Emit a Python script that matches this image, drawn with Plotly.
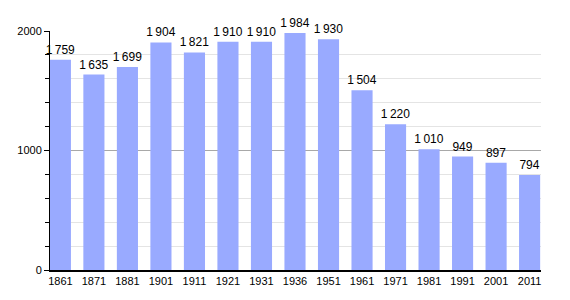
import plotly.graph_objects as go

years = ["1861", "1871", "1881", "1901", "1911", "1921", "1931", "1936", "1951",
         "1961", "1971", "1981", "1991", "2001", "2011"]
population = [1759, 1635, 1699, 1904, 1821, 1910, 1910, 1984, 1930,
              1504, 1220, 1010, 949, 897, 794]
y_ticks = [0, 1000, 2000]

def fmt(v):
    s = str(v)
    if len(s) > 3:
        return s[:-3] + "\u2009" + s[-3:]
    return s

fig = go.Figure()
fig.add_trace(go.Bar(
    x=years, y=population,
    marker=dict(color="#99aaff", line=dict(width=0)),
    width=0.63,
    text=[fmt(v) for v in population],
    textposition="outside",
    constraintext="none",
    textfont=dict(family="Liberation Sans, Arial", size=12, color="black"),
    cliponaxis=False,
))

fig.update_layout(
    width=570, height=300,
    margin=dict(l=50, r=29, t=31, b=30),
    plot_bgcolor="white", paper_bgcolor="white",
    showlegend=False,
    font=dict(family="Liberation Sans, Arial", size=11, color="black"),
)
fig.update_xaxes(
    type="category", range=[-0.31, 14.34],
    showline=True, linecolor="black", linewidth=1.5,
    ticks="", showgrid=False,
    tickfont=dict(size=11),
)
fig.update_yaxes(
    range=[0, 2000], tickvals=y_ticks,
    showline=True, linecolor="black", linewidth=1,
    ticks="outside", ticklen=5, tickcolor="black",
    showgrid=True, gridcolor="#a8a8a8", gridwidth=1,
    minor=dict(dtick=200, showgrid=True, gridcolor="#e4e4e4", ticks="outside",
               ticklen=4, tickcolor="black"),
    zeroline=False,
    tickfont=dict(size=11),
)
fig.write_html("out.html")
